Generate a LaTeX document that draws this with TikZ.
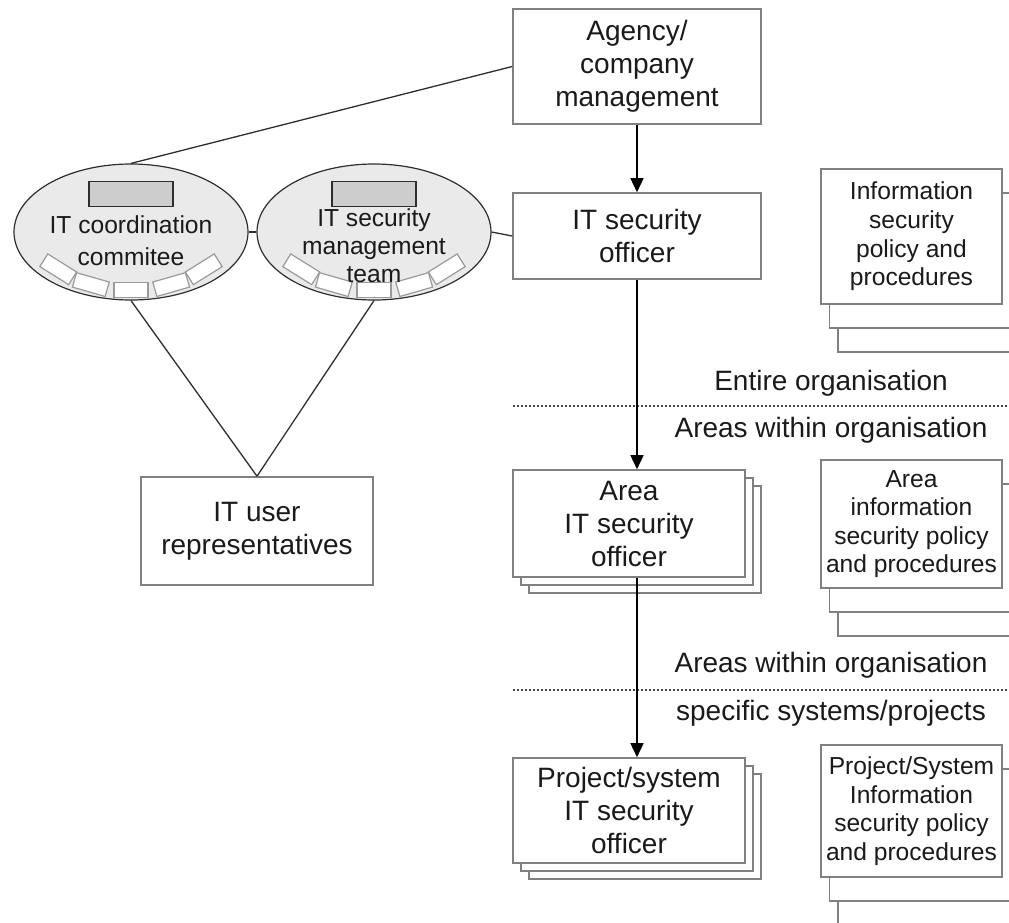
\documentclass[tikz,border=0pt]{standalone}
\usepackage{fontspec}
\setmainfont{Liberation Sans}
\usetikzlibrary{shapes.geometric, arrows.meta, calc, shadows}
\definecolor{Ink}{HTML}{1A1A1A}
\definecolor{FrameGray}{HTML}{808080}
\definecolor{EdgeDark}{HTML}{2E2E2E}
\definecolor{BoardFill}{HTML}{EAEAEA}
\definecolor{ChairGray}{HTML}{CDCDCD}
\definecolor{SeatGray}{HTML}{9A9A9A}
\definecolor{TierGray}{HTML}{444444}
\tikzset{
  rolebox/.style={rectangle, draw=FrameGray, fill=white, line width=0.8pt,
    inner sep=0pt, align=center, text=Ink,
    font=\fontsize{14pt}{16.5pt}\selectfont},
  rolestack/.style={rolebox,
    copy shadow={shadow xshift=8pt, shadow yshift=-8pt, fill=white,
      draw=FrameGray, line width=0.8pt},
    copy shadow={shadow xshift=4pt, shadow yshift=-4pt, fill=white,
      draw=FrameGray, line width=0.8pt}},
  policydoc/.style={rectangle, draw=FrameGray, fill=white, line width=0.8pt,
    inner sep=0pt, align=center, text=Ink, minimum width=90.5pt,
    font=\fontsize{12.3pt}{14.3pt}\selectfont,
    copy shadow={shadow xshift=8.5pt, shadow yshift=-24pt, fill=white,
      draw=FrameGray, line width=0.8pt},
    copy shadow={shadow xshift=4.25pt, shadow yshift=-12pt, fill=white,
      draw=FrameGray, line width=0.8pt}},
  board/.style={ellipse, draw=EdgeDark, fill=BoardFill, line width=0.6pt,
    minimum width=117pt, minimum height=68pt, inner sep=0pt},
  boardtext/.style={align=center, text=Ink, inner sep=0pt,
    font=\fontsize{12.3pt}{16pt}\selectfont},
  chair/.style={rectangle, draw=EdgeDark, fill=ChairGray, line width=0.6pt,
    minimum width=42pt, minimum height=12.5pt, inner sep=0pt},
  seat/.style={rectangle, draw=SeatGray, fill=white, line width=0.6pt,
    minimum width=17pt, minimum height=7.5pt, inner sep=0pt},
  tierlbl/.style={text=Ink, inner sep=0pt, font=\fontsize{14pt}{16.5pt}\selectfont},
  tierline/.style={draw=TierGray, line width=1.1pt, dash pattern=on 1.2pt off 0.8pt},
  arr/.style={-{Triangle[length=7pt, width=6.5pt]}, line width=0.75pt, color=black},
  link/.style={line width=0.65pt, color=EdgeDark},
}
\begin{document}
\begin{tikzpicture}[x=0.5pt, y=-0.5pt]
  \useasboundingbox (0,0) rectangle (1009,923);
  \clip (0,0) rectangle (1009,923);

  \node (mgmt)    [rolebox, minimum width=124pt, minimum height=57.5pt] at (637,66.5) {Agency/\\company\\management};
  \node (officer) [rolebox, minimum width=124pt, minimum height=43pt]   at (637,236)  {IT security\\officer};
  \node (areaoff) [rolestack, minimum width=116pt, minimum height=53.5pt] at (629,523.5) {Area\\IT security\\officer};
  \node (projoff) [rolestack, minimum width=116pt, minimum height=52.5pt] at (629,810.5) {Project/system\\IT security\\officer};
  \node (users)   [rolebox, minimum width=116pt, minimum height=54pt] at (257,531) {IT user\\representatives};

  \node (policy)     [policydoc, minimum height=67.5pt] at (911.5,236.5) {Information\\security\\policy and\\procedures};
  \node (areapolicy) [policydoc, minimum height=64pt]   at (911.5,524)   {Area\\information\\security policy\\and procedures};
  \node (projpolicy) [policydoc, minimum height=66pt]   at (911.5,811)   {Project/System\\Information\\security policy\\and procedures};

  \node (coord)   [board] at (131,232) {};
  \node (secteam) [board] at (374,232) {};
  \foreach \brd in {coord, secteam} {
    \node (\brd-chair) [chair] at ($(\brd.center)+(0,-38)$) {};
    \foreach \a/\r [count=\i] in {140/-32, 115/-16, 90/0, 65/16, 40/32}
      \node (\brd-seat\i) [seat, rotate=\r] at ($(\brd.center)+({95*cos(\a)},{58*sin(\a)})$) {};
  }
  \node (coordlbl)   [boardtext] at ($(coord.center)+(0,9)$) {IT coordination\\commitee};
  \node (secteamlbl) [boardtext, font=\fontsize{12.3pt}{14pt}\selectfont] at ($(secteam.center)+(0,14)$) {IT security\\management\\team};

  \node (tierAup) [tierlbl] at (831,383) {Entire organisation};
  \node (tierAdn) [tierlbl] at (831,430) {Areas within organisation};
  \node (tierBup) [tierlbl] at (831,665) {Areas within organisation};
  \node (tierBdn) [tierlbl] at (831,713) {specific systems/projects};
  \coordinate (tierAw) at (513,406);
  \coordinate (tierAe) at (1009,406);
  \coordinate (tierBw) at (513,690);
  \coordinate (tierBe) at (1009,690);
  \draw[tierline] (tierAw) -- (tierAe);
  \draw[tierline] (tierBw) -- (tierBe);

  \draw[arr]  (mgmt) -- (officer);
  \draw[arr]  (officer.south) -- (officer.south |- areaoff.north);
  \draw[arr]  (officer.south |- areaoff.south) -- (officer.south |- projoff.north);
  \draw[link] (mgmt.west) -- (coord.north);
  \draw[link] (coord) -- (secteam);
  \draw[link] (secteam.east) -- (officer.west);
  \draw[link] (coord.south) -- (users.north);
  \draw[link] (secteam.south) -- (users.north);
\end{tikzpicture}
\end{document}
